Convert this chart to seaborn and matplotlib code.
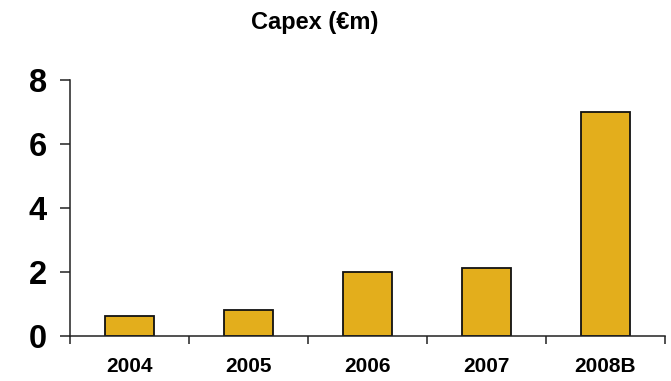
import matplotlib
matplotlib.use("Agg")
import matplotlib.pyplot as plt
import seaborn as sns
import pandas as pd
import numpy as np

# Capital expenditure by year, in € millions
years = ["2004", "2005", "2006", "2007", "2008B"]
capex = [0.6, 0.8, 2.0, 2.1, 7.0]
y_ticks = [0, 2, 4, 6, 8]

df = pd.DataFrame({"year": years, "capex": capex})

sns.set_style("white")
plt.rcParams["font.family"] = ["Liberation Sans", "DejaVu Sans"]
plt.rcParams["text.color"] = "black"
plt.rcParams["xtick.color"] = "black"
plt.rcParams["ytick.color"] = "black"

fig = plt.figure(figsize=(6.71, 3.81), dpi=100)
ax = fig.add_axes([0.1043, 0.1189, 0.8867, 0.6724])

sns.barplot(data=df, x="year", y="capex", color="#E3AE1C", saturation=1,
            width=0.41, edgecolor="#111111", linewidth=1.3, ax=ax)

ax.set_xlim(-0.5, len(years) - 0.5)
ax.set_ylim(0, 8)
ax.set_yticks(y_ticks)
ax.set_yticklabels([str(t) for t in y_ticks], fontsize=23.5, fontweight="bold")
ax.tick_params(axis="y", direction="out", length=7.5, width=1.1, color="#222222",
               labelcolor="black", pad=9, left=True)

# category labels centred, tick marks on the boundaries between categories
ax.set_xticks(range(len(years)))
ax.set_xticklabels(years, fontsize=15, fontweight="bold")
ax.tick_params(axis="x", which="major", length=0, pad=15, labelcolor="black")
ax.set_xticks(np.arange(-0.5, len(years)), minor=True)
ax.tick_params(axis="x", which="minor", direction="out", length=6, width=1.1,
               color="#222222", bottom=True)

ax.set_xlabel("")
ax.set_ylabel("")
for side in ["top", "right"]:
    ax.spines[side].set_visible(False)
for side in ["left", "bottom"]:
    ax.spines[side].set_color("#222222")
    ax.spines[side].set_linewidth(1.1)

fig.text(0.469, 0.942, "Capex (€m)", ha="center", va="center",
         fontsize=17, fontweight="bold", color="black")

fig.savefig("out.png", dpi=100)
